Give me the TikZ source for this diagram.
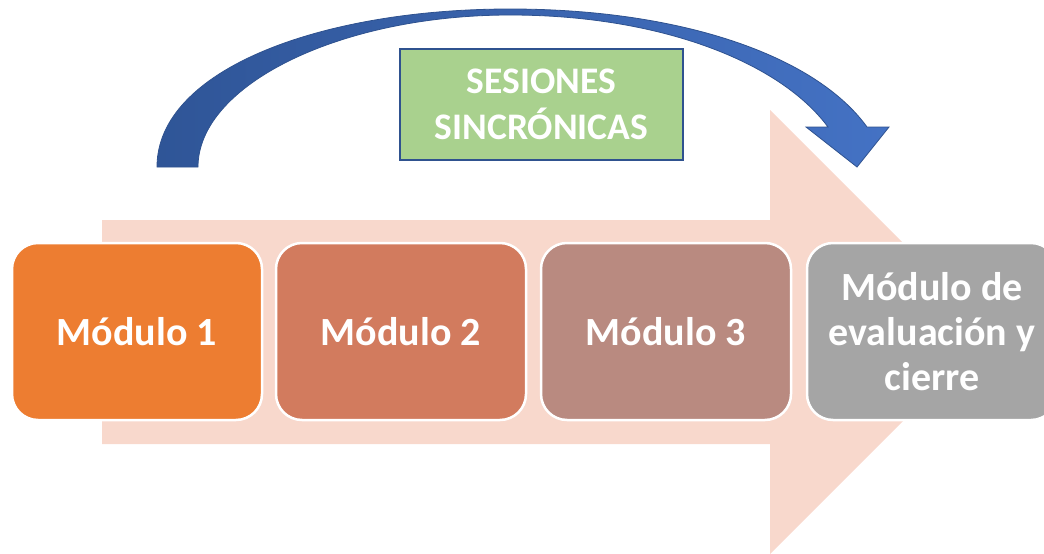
\documentclass[tikz,border=0pt]{standalone}
\usepackage{fontspec}
\setmainfont{Carlito}
\definecolor{pinkarrow}{RGB}{248,216,204}
\definecolor{mod1}{RGB}{237,125,49}
\definecolor{mod2}{RGB}{210,123,94}
\definecolor{mod3}{RGB}{185,138,128}
\definecolor{mod4}{RGB}{165,165,165}
\definecolor{greenbox}{RGB}{169,209,142}
\definecolor{blueborder}{RGB}{47,82,143}
\definecolor{bluedark}{RGB}{47,85,151}
\definecolor{bluelight}{RGB}{68,114,196}
\tikzset{
  modbox/.style={draw=white, line width=2.5pt, rounded corners=26pt, minimum width=250pt, minimum height=177pt, text=white, font=\fontsize{40}{45}\selectfont\bfseries, align=center, inner sep=0pt},
  labelbox/.style={draw=blueborder, line width=2pt, fill=greenbox, minimum width=283pt, minimum height=111pt, text=white, font=\fontsize{37.5}{46}\selectfont\bfseries, align=center, inner sep=0pt}
}
\begin{document}
\begin{tikzpicture}[x=1pt,y=-1pt]
\useasboundingbox (0,0) rectangle (1044,554);
\clip (0,0) rectangle (1044,554);
% big pink arrow
\fill[pinkarrow] (102,220) -- (770,220) -- (770,110) -- (992,332) -- (770,554) -- (770,444) -- (102,444) -- cycle;
% modules
\node[modbox, fill=mod1] (m1) at (137,331.5) {Módulo 1};
\node[modbox, fill=mod2] (m2) at (401,331.5) {Módulo 2};
\node[modbox, fill=mod3] (m3) at (666,331.5) {Módulo 3};
\node[modbox, fill=mod4] (m4) at (932,331.5) {Módulo de\\evaluación y\\cierre};
% curved arrow
\shadedraw[left color=bluedark, right color=bluelight, draw=blueborder, line width=0.8pt]
  (157,167) .. controls (157,70) and (320,9) .. (510,9)
  .. controls (680,9) and (815,55) .. (867,127)
  -- (889,127) -- (857,167) -- (806,127) -- (828,127)
  .. controls (780,62) and (660,15) .. (510,15)
  .. controls (340,15) and (198,85) .. (198,167) -- cycle;
% label
\node[labelbox] (lab) at (541.5,104.5) {SESIONES\\SINCRÓNICAS};
\end{tikzpicture}
\end{document}
